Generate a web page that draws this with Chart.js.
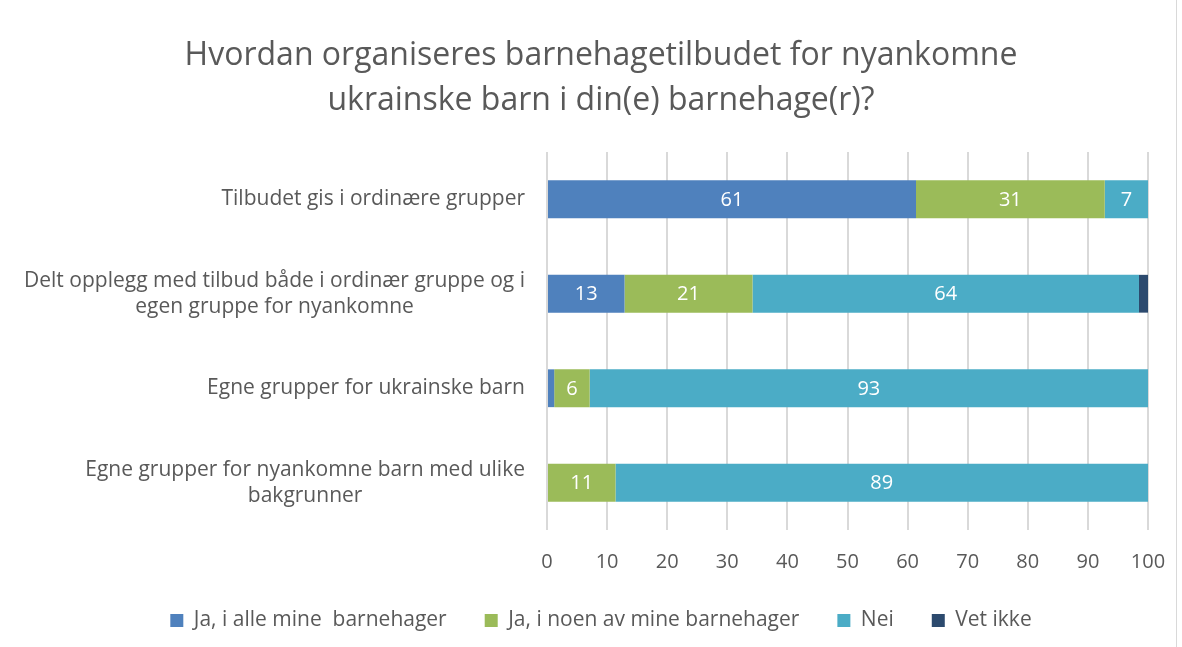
<!DOCTYPE html>
<html>
<head>
<meta charset="utf-8">
<script src="https://cdn.jsdelivr.net/npm/chart.js@4.4.1/dist/chart.umd.min.js"></script>
<style>
  body { margin: 0; background: #fff; }
  #wrap { position: relative; width: 1182px; height: 647px; }
  #wrap:after { content: ""; position: absolute; left: 1176px; top: 0; width: 1px; height: 647px; background: #d9d9d9; }
</style>
</head>
<body>
<div id="wrap"><canvas id="chart" width="1182" height="647"></canvas></div>
<script>
const FONT = "'Open Sans', Lato, sans-serif";
const TEXT = "#595959";

const categories = [
  ["Tilbudet gis i ordinære grupper"],
  ["Delt opplegg med tilbud både i ordinær gruppe og i", "egen gruppe for nyankomne"],
  ["Egne grupper for ukrainske barn"],
  ["Egne grupper for nyankomne barn med ulike", "bakgrunner"]
];
const seriesNames = ["Ja, i alle mine  barnehager", "Ja, i noen av mine barnehager", "Nei", "Vet ikke"];
const jaAlle = [61.4, 12.9, 1.2, 0];
const jaNoen = [31.4, 21.3, 5.9, 11.4];
const nei = [7.2, 64.3, 92.9, 88.6];
const vetIkke = [0, 1.5, 0, 0];
const colors = ["#4f81bd", "#9bbb59", "#4bacc6", "#2c4a6e"];
const xTicks = [0, 10, 20, 30, 40, 50, 60, 70, 80, 90, 100];

// white value labels inside the bar segments
const valueLabels = {
  id: "valueLabels",
  afterDatasetsDraw(chart) {
    const ctx = chart.ctx;
    ctx.save();
    ctx.font = "20px " + FONT;
    ctx.fillStyle = "#ffffff";
    ctx.textAlign = "center";
    ctx.textBaseline = "middle";
    chart.data.datasets.forEach((ds, i) => {
      chart.getDatasetMeta(i).data.forEach((bar, j) => {
        const v = ds.data[j];
        if (v < 3) return;
        const p = bar.getCenterPoint();
        ctx.fillText(Math.round(v), p.x, p.y + 1);
      });
    });
    ctx.restore();
  }
};

// category labels: each block right-aligned, lines centred inside the block
const catLabels = {
  id: "catLabels",
  afterDraw(chart) {
    const ctx = chart.ctx;
    const y = chart.scales.y;
    const right = chart.chartArea.left - 22;
    ctx.save();
    ctx.font = "21px " + FONT;
    ctx.fillStyle = TEXT;
    ctx.textAlign = "center";
    ctx.textBaseline = "middle";
    const lh = 26;
    categories.forEach((lines, i) => {
      const w = Math.max(...lines.map(l => ctx.measureText(l).width));
      const cx = right - w / 2;
      const cy = y.getPixelForValue(i);
      lines.forEach((l, k) => {
        ctx.fillText(l, cx, cy + (k - (lines.length - 1) / 2) * lh);
      });
    });
    ctx.restore();
  }
};

const data = [jaAlle, jaNoen, nei, vetIkke];

new Chart(document.getElementById("chart"), {
  type: "bar",
  data: {
    labels: categories.map(c => c.join(" ")),
    datasets: data.map((d, i) => ({
      label: seriesNames[i],
      data: d,
      backgroundColor: colors[i],
      borderWidth: 0,
      categoryPercentage: 0.5,
      barPercentage: 0.8
    }))
  },
  options: {
    indexAxis: "y",
    responsive: false,
    animation: false,
    layout: { padding: { left: 20, right: 0, top: 0, bottom: 6 } },
    plugins: {
      title: {
        display: true,
        text: ["Hvordan organiseres barnehagetilbudet for nyankomne", "ukrainske barn i din(e) barnehage(r)?"],
        color: TEXT,
        font: { family: FONT, size: 32, weight: "normal", lineHeight: 1.406 },
        padding: { top: 33, bottom: 29 }
      },
      legend: {
        position: "bottom",
        labels: {
          color: TEXT,
          font: { family: FONT, size: 21 },
          boxWidth: 13,
          boxHeight: 13,
          padding: 38
        }
      },
      tooltip: { enabled: false }
    },
    scales: {
      x: {
        stacked: true,
        min: 0,
        max: 100,
        afterBuildTicks(s) { s.ticks = xTicks.map(v => ({ value: v })); },
        afterFit(s) { s.paddingRight = 34; s.height = 42; },
        grid: { color: "#d9d9d9", lineWidth: 2, drawTicks: false },
        border: { display: false },
        ticks: { color: TEXT, font: { family: FONT, size: 20, lineHeight: 1 }, padding: 22 }
      },
      y: {
        stacked: true,
        afterFit(s) { s.width = 527; },
        grid: { display: false },
        border: { display: false },
        ticks: { color: "rgba(0,0,0,0)", font: { family: FONT, size: 20 } }
      }
    }
  },
  plugins: [valueLabels, catLabels]
});
</script>
</body>
</html>
